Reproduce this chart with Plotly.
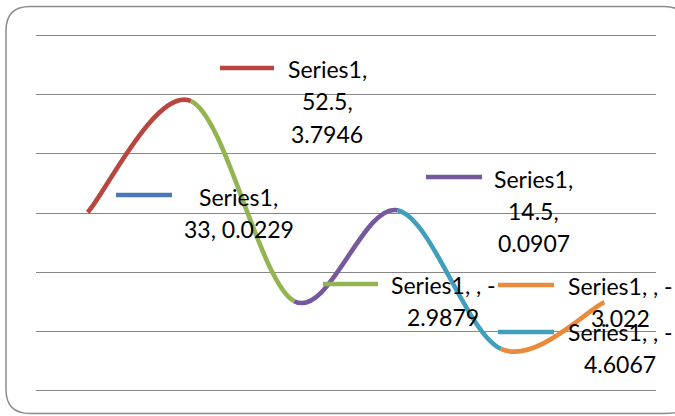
import plotly.graph_objects as go

# ---------------- data ----------------
series_name = "Series1"
categories = ["33", "52.5", "", "14.5", "", ""]
values = [0.0229, 3.7946, -2.9879, 0.0907, -4.6067, -3.022]
point_colors = ["#4A79B5", "#B8463F", "#92B451", "#76599C", "#409FBA", "#E98A3C"]

# ---------------- layout geometry (pixels) ----------------
WIDTH, HEIGHT = 675, 416
YMIN, YMAX = -6, 6
YPAD = 0.1
ML, MR, MT, MB = 36, 19, 33, 23
PW = WIDTH - ML - MR
PH = HEIGHT - MT - MB
FONT = "Lato"
FSIZE = 23


def pxx(px):
    return (px - ML) / PW


def pxy(py):
    return (HEIGHT - MB - py) / PH


n = len(values)
xs = list(range(n))

fig = go.Figure()
# the data trace (invisible markers; the smoothed coloured segments are drawn below)
fig.add_trace(go.Scatter(
    x=xs, y=values, mode="markers",
    marker=dict(size=6, color=point_colors, opacity=0),
    customdata=categories, name=series_name,
    hovertemplate="%{customdata}, %{y}<extra>" + series_name + "</extra>",
    showlegend=False,
))

shapes = []
# smoothed (Catmull-Rom style Bezier) line, each segment coloured by its end point
for i in range(n - 1):
    x0, y0 = xs[i], values[i]
    x1, y1 = xs[i + 1], values[i + 1]
    xp, yp = (xs[i - 1], values[i - 1]) if i > 0 else (x0, y0)
    xn, yn = (xs[i + 2], values[i + 2]) if i + 2 < n else (x1, y1)
    c1x, c1y = x0 + (x1 - xp) / 6, y0 + (y1 - yp) / 6
    c2x, c2y = x1 - (xn - x0) / 6, y1 - (yn - y0) / 6
    path = f"M {x0},{y0} C {c1x},{c1y} {c2x},{c2y} {x1},{y1}"
    shapes.append(dict(type="path", xref="x", yref="y", path=path,
                       line=dict(color=point_colors[i + 1], width=4.6),
                       layer="above"))

# chart border (rounded rectangle; its right side lies beyond the visible page)
bx0, by0, bx1, by1, r = 6, 6.5, 688, 413.5, 24
rx, ry = r / PW, r / PH
X0, X1 = pxx(bx0), pxx(bx1)
Y0, Y1 = pxy(by1), pxy(by0)
border = (f"M {X1},{Y0 + ry * 0.4} L {X1},{Y0 + ry} L {X1},{Y1 - ry} "
          f"Q {X1},{Y1} {X1 - rx},{Y1} L {X0 + rx},{Y1} "
          f"Q {X0},{Y1} {X0},{Y1 - ry} L {X0},{Y0 + ry} Q {X0},{Y0} {X0 + rx},{Y0} "
          f"L {X1 - rx},{Y0} Q {X1},{Y0} {X1},{Y0 + ry * 0.4}")
shapes.append(dict(type="path", xref="paper", yref="paper", path=border,
                   line=dict(color="#8C8C8C", width=1.5), layer="below"))

# data labels: (point index, key x0, key x1, key y, text centre x, first baseline, break positions)
label_layout = [
    (0, 116, 172, 195, 238.5, 205, [9]),
    (1, 220, 274, 68, 327, 77, [9, 15]),
    (2, 323, 378, 284, 443, 293, [12]),
    (3, 426, 482, 177, 533.5, 187, [9, 15]),
    (4, 498, 554, 332, 620, 340, [12]),
    (5, 498, 554, 285, 620, 294, [12]),
]
LINE_GAP = 32.5
annotations = []
for idx, kx0, kx1, ky, cx, base, breaks in label_layout:
    full = f"{series_name}, {categories[idx]}, {values[idx]:g}"
    parts, prev = [], 0
    for b in breaks + [len(full)]:
        parts.append(full[prev:b].strip())
        prev = b
    shapes.append(dict(type="line", xref="paper", yref="paper",
                       x0=pxx(kx0), x1=pxx(kx1), y0=pxy(ky), y1=pxy(ky),
                       line=dict(color=point_colors[idx], width=4.6), layer="above"))
    for j, t in enumerate(parts):
        bl = base + j * LINE_GAP
        annotations.append(dict(
            text=t, xref="paper", yref="paper", x=pxx(cx), y=pxy(bl - 8.5),
            xanchor="center", yanchor="middle", showarrow=False,
            font=dict(family=FONT, size=FSIZE, color="#000000")))

fig.update_layout(
    width=WIDTH, height=HEIGHT,
    margin=dict(l=ML, r=MR, t=MT, b=MB, pad=0),
    paper_bgcolor="white", plot_bgcolor="white",
    showlegend=False,
    shapes=shapes, annotations=annotations,
    xaxis=dict(range=[-0.5, n - 0.5], showgrid=False, zeroline=False,
               showline=False, showticklabels=False, ticks=""),
    yaxis=dict(range=[YMIN - YPAD, YMAX + YPAD], dtick=2, tick0=0,
               showgrid=True, gridcolor="#878787", gridwidth=1.4,
               zeroline=False, showline=False, showticklabels=False, ticks=""),
)

fig.write_html("out.html")
